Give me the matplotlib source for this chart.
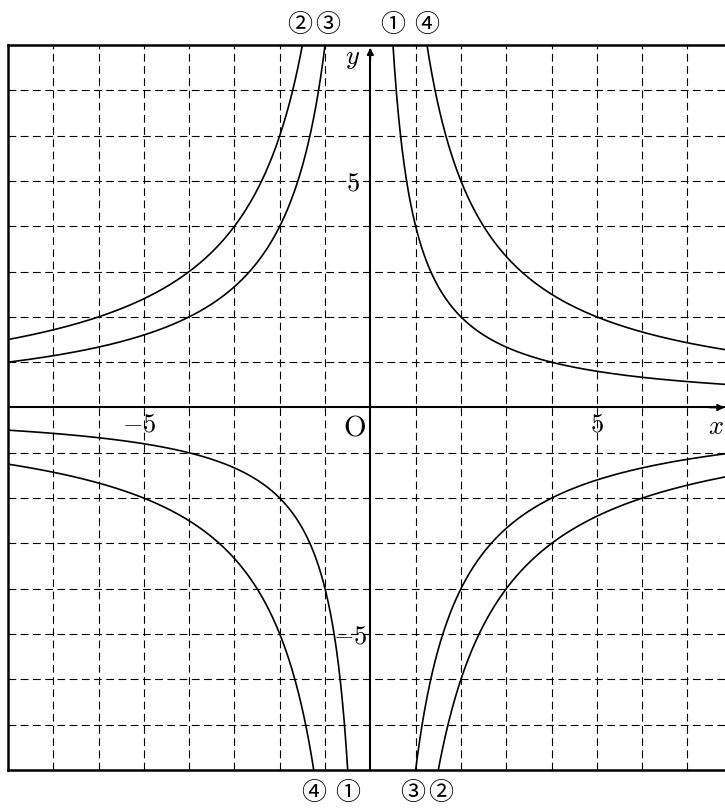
import numpy as np
import matplotlib.pyplot as plt

# y = a / x curves, labels as circled numbers
coefs = [4, -12, -8, 10]
names = ["①", "②", "③", "④"]
x_ticks = [-5, 5]
y_ticks = [5, -5]

XMIN, XMAX = -8, 7.83
YMIN, YMAX = -8, 8

plt.rcParams["mathtext.fontset"] = "cm"
circ_font = ["Noto Sans CJK JP", "DejaVu Sans"]

fig = plt.figure(figsize=(7.25, 8.08), dpi=100)
ax = fig.add_axes([8 / 725, 1 - 770 / 808, 1 - 8 / 725, 725 / 808])
ax.set_xlim(XMIN, XMAX)
ax.set_ylim(YMIN, YMAX)

# dashed grid
for g in range(-7, 8):
    if g == 0:
        continue
    ax.axvline(g, color="black", lw=0.8, ls=(0, (7, 4)), zorder=1)
    ax.axhline(g, color="black", lw=0.8, ls=(0, (7, 4)), zorder=1)

# axes
ax.plot([XMIN, XMAX], [0, 0], color="black", lw=1.5, zorder=3)
ax.plot([0, 0], [YMIN, 7.9], color="black", lw=1.5, zorder=3)
ax.annotate("", xy=(0, 8.0), xytext=(0, 7.6),
            arrowprops=dict(arrowstyle="-|>", color="black", lw=1.2,
                            mutation_scale=10), zorder=4)
ax.annotate("", xy=(XMAX + 0.05, 0), xytext=(XMAX - 0.4, 0),
            arrowprops=dict(arrowstyle="-|>", color="black", lw=1.2,
                            mutation_scale=10), zorder=4, annotation_clip=False)

# curves
for a in coefs:
    xmin_abs = abs(a) / 8.5
    xr = np.linspace(xmin_abs, 9, 800)
    ax.plot(xr, a / xr, color="black", lw=1.2, zorder=2)
    ax.plot(-xr, -a / xr, color="black", lw=1.2, zorder=2)

# tick labels
for t in x_ticks:
    lab = r"$-5$" if t < 0 else r"$5$"
    ax.text(t - (0.1 if t < 0 else 0), -0.38, lab, fontsize=19,
            ha="center", va="center")
for t in y_ticks:
    lab = r"$-5$" if t < 0 else r"$5$"
    ax.text(-0.45 if t < 0 else -0.38, t - 0.05, lab, fontsize=19,
            ha="center", va="center")
ax.text(-0.35, -0.45, r"$\mathrm{O}$", fontsize=21, ha="center", va="center")
ax.text(-0.4, 7.72, r"$y$", fontsize=19, ha="center", va="center")
ax.text(7.62, -0.42, r"$x$", fontsize=19, ha="center", va="center")

# circled labels at curve ends (spread the touching pairs a little)
nudge = {"②": -0.06, "③": 0.06}
for a, n in zip(coefs, names):
    d = nudge.get(n, 0)
    ax.text(a / 8 + d, 8.45, n, fontsize=18, family=circ_font,
            ha="center", va="center")
    ax.text(-a / 8 - d, -8.5, n, fontsize=18, family=circ_font,
            ha="center", va="center")

for s in ["top", "left", "bottom"]:
    ax.spines[s].set_linewidth(1.8)
ax.spines["right"].set_visible(False)
ax.set_xticks([])
ax.set_yticks([])

fig.savefig("out.png", dpi=100)
